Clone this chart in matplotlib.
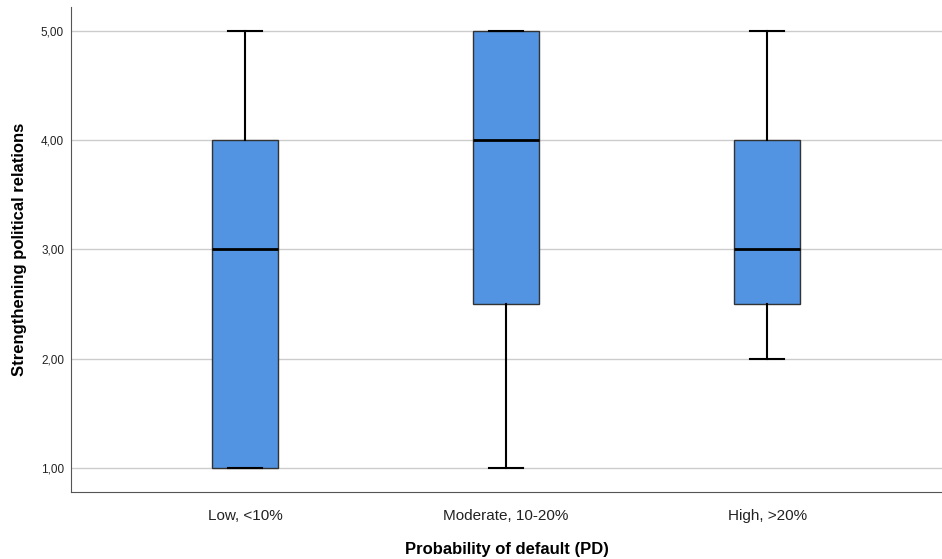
import matplotlib
matplotlib.use("Agg")
import matplotlib.pyplot as plt

# data
groups = ["Low, <10%", "Moderate, 10-20%", "High, >20%"]
whisker_lo = [1.0, 1.0, 2.0]
q1 = [1.0, 2.5, 2.5]
median = [3.0, 4.0, 3.0]
q3 = [4.0, 5.0, 4.0]
whisker_hi = [5.0, 5.0, 5.0]
yticks = [1, 2, 3, 4, 5]
ytick_labels = ["1,00", "2,00", "3,00", "4,00", "5,00"]

plt.rcParams['font.family'] = ['Liberation Sans', 'DejaVu Sans']

fig = plt.figure(figsize=(9.42, 5.59), dpi=100)
ax = fig.add_axes([71/942, 67/559, 1 - 71/942, (492 - 7)/559])

stats = []
for i, g in enumerate(groups):
    stats.append({'label': g, 'whislo': whisker_lo[i], 'q1': q1[i], 'med': median[i],
                  'q3': q3[i], 'whishi': whisker_hi[i], 'fliers': []})

ax.bxp(stats, positions=range(len(groups)), widths=0.253, patch_artist=True,
       showfliers=False,
       boxprops=dict(facecolor='#5294e2', edgecolor='#333333', linewidth=1.0),
       medianprops=dict(color='black', linewidth=2.0),
       whiskerprops=dict(color='black', linewidth=1.5),
       capprops=dict(color='black', linewidth=1.5),
       capwidths=0.13, zorder=3)

ax.set_xlim(-0.667, 2.67)
ax.set_ylim(0.78, 5.22)
ax.set_yticks(yticks)
ax.set_yticklabels(ytick_labels, fontsize=8.5, color='#222222')
ax.set_xticks(range(len(groups)))
ax.set_xticklabels(groups, fontsize=11, color='#222222')
ax.tick_params(axis='x', length=0, pad=12)
ax.tick_params(axis='y', length=0, pad=5)

ax.grid(axis='y', color='#cccccc', linewidth=1.0, zorder=0)
ax.set_axisbelow(True)

ax.spines['top'].set_visible(False)
ax.spines['right'].set_visible(False)
ax.spines['left'].set_color('#555555')
ax.spines['bottom'].set_color('#555555')

ax.set_xlabel("Probability of default (PD)", fontsize=12, fontweight='bold', labelpad=14)
ax.set_ylabel("Strengthening political relations", fontsize=12, fontweight='bold', labelpad=10)

fig.savefig("out.png", dpi=100)
